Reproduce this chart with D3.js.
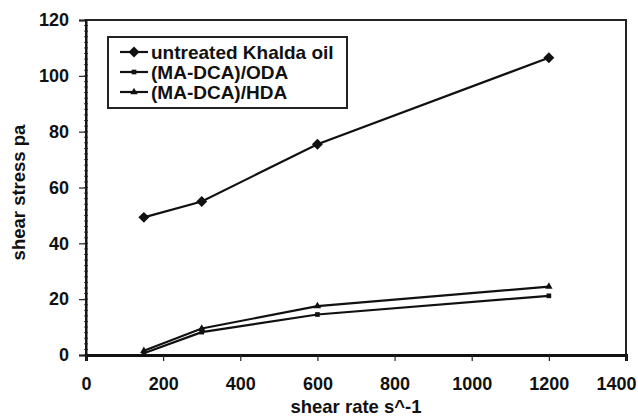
<!DOCTYPE html>
<html><head><meta charset="utf-8">
<script src="https://cdn.jsdelivr.net/npm/d3@7"></script>
<style>body{margin:0;background:#fff}svg{display:block}text{font-family:"Liberation Sans",Arial,sans-serif;font-weight:bold;fill:#111}</style>
</head><body>
<script>
const shearRate = [150, 300, 600, 1200];
const untreated = [49.3, 55, 75.5, 106.5];
const odaValues = [0.6, 8.2, 14.5, 21.2];
const hdaValues = [1.5, 9.5, 17.5, 24.5];
const seriesNames = ["untreated Khalda oil", "(MA-DCA)/ODA", "(MA-DCA)/HDA"];
const xTicks = [0, 200, 400, 600, 800, 1000, 1200, 1400];
const yTicks = [0, 20, 40, 60, 80, 100, 120];

const W = 638, H = 418;
const m = {l: 86, r: 12, t: 20, b: 63};
const svg = d3.select("body").append("svg").attr("width", W).attr("height", H);
const x = d3.scaleLinear().domain([0, 1400]).range([m.l, W - m.r]);
const y = d3.scaleLinear().domain([0, 120]).range([H - m.b, m.t]);

// frame
svg.append("rect").attr("x", x(0)).attr("y", y(120)).attr("width", x(1400) - x(0)).attr("height", y(0) - y(120))
  .attr("fill", "none").attr("stroke", "#222").attr("stroke-width", 2);

// minor y ticks
const minor = d3.range(0, 121, 2);
svg.append("g").selectAll("line").data(minor).join("line")
  .attr("x1", x(0) - 2).attr("x2", x(0) + 2).attr("y1", d => y(d)).attr("y2", d => y(d))
  .attr("stroke", "#444").attr("stroke-width", 1);

// y axis
const yAx = svg.append("g").attr("transform", `translate(${x(0)},0)`)
  .call(d3.axisLeft(y).tickValues(yTicks).tickFormat(d3.format("d")).tickSize(7).tickPadding(10));
yAx.select(".domain").attr("stroke", "#111").attr("stroke-width", 2);
yAx.selectAll(".tick line").attr("stroke", "#222").attr("stroke-width", 1.2);
yAx.selectAll("text").style("font-size", "18px").attr("fill", "#111");

// x axis
const xAx = svg.append("g").attr("transform", `translate(0,${y(0)})`)
  .call(d3.axisBottom(x).tickValues(xTicks).tickFormat(d3.format("d")).tickSize(6).tickPadding(16));
xAx.select(".domain").attr("stroke", "#111").attr("stroke-width", 3);
xAx.selectAll(".tick line").attr("stroke", "#222").attr("stroke-width", 1.2);
xAx.selectAll("text").style("font-size", "18px").attr("fill", "#111");
// last label sits shifted left so it stays inside the picture
xAx.selectAll(".tick").filter(d => d === 1400).select("text").attr("text-anchor", "end").attr("x", 10);

// titles
svg.append("text").attr("x", (x(0) + x(1400)) / 2).attr("y", 413).attr("text-anchor", "middle")
  .style("font-size", "18.5px").text("shear rate s^-1");
svg.append("text").attr("transform", `translate(25,${(y(0) + y(120)) / 2 + 5}) rotate(-90)`).attr("text-anchor", "middle")
  .style("font-size", "18.5px").text("shear stress pa");

const line = d3.line().x(d => x(d[0])).y(d => y(d[1]));
const series = [untreated, odaValues, hdaValues];
const diamond = {draw(ctx, size) { const r = Math.sqrt(size / 2); ctx.moveTo(0, -r); ctx.lineTo(r, 0); ctx.lineTo(0, r); ctx.lineTo(-r, 0); ctx.closePath(); }};
const symbols = [diamond, d3.symbolSquare, d3.symbolTriangle];
const symSizes = [60, 22, 24];

series.forEach((vals, i) => {
  const pts = shearRate.map((r, j) => [r, vals[j]]);
  svg.append("path").datum(pts).attr("d", line).attr("fill", "none").attr("stroke", "#111").attr("stroke-width", 2.2);
  svg.append("g").selectAll("path").data(pts).join("path")
    .attr("transform", d => `translate(${x(d[0])},${y(d[1])})`)
    .attr("d", d3.symbol().type(symbols[i]).size(symSizes[i])).attr("fill", "#111");
});

// legend
const lg = svg.append("g");
lg.append("rect").attr("x", 108).attr("y", 37).attr("width", 239).attr("height", 71)
  .attr("fill", "#fff").attr("stroke", "#222").attr("stroke-width", 2);
seriesNames.forEach((n, i) => {
  const cy = 52 + i * 20;
  lg.append("line").attr("x1", 120).attr("x2", 148).attr("y1", cy).attr("y2", cy).attr("stroke", "#111").attr("stroke-width", 2.2);
  lg.append("path").attr("transform", `translate(134,${cy})`).attr("d", d3.symbol().type(symbols[i]).size(symSizes[i])).attr("fill", "#111");
  lg.append("text").attr("x", 151).attr("y", cy + 7).style("font-size", "19px").text(n);
});
</script>
</body></html>
